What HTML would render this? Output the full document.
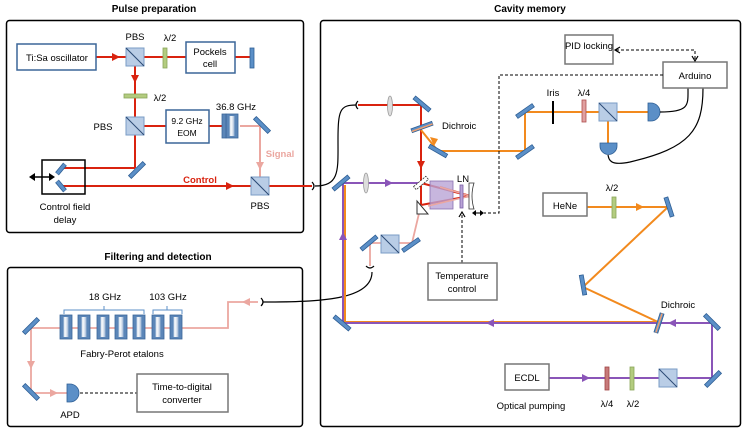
<!DOCTYPE html>
<html><head><meta charset="utf-8"><style>
html,body{margin:0;padding:0;background:#fff;}
svg{display:block;font-family:"Liberation Sans",sans-serif;}
</style></head><body>
<svg width="748" height="435" viewBox="0 0 748 435" xmlns="http://www.w3.org/2000/svg">
<defs>
<linearGradient id="et" x1="0" x2="1"><stop offset="0" stop-color="#5b86b8"/><stop offset="0.3" stop-color="#fff"/><stop offset="0.7" stop-color="#ccd8e8"/><stop offset="1" stop-color="#5b86b8"/></linearGradient>
<g id="cube"><rect x="-9" y="-9" width="18" height="18" fill="#b9cde6" stroke="#7a9cc6" stroke-width="1"/><line x1="-9" y1="-9" x2="9" y2="9" stroke="#2c4a75" stroke-width="1"/></g>
<g id="mir"><rect x="-10" y="-2" width="20" height="4" fill="#5b8fc7" stroke="#2f5f95" stroke-width="0.8"/></g>
<g id="etl"><rect x="0" y="0" width="12" height="24" fill="#5b86b8" stroke="#3b6699" stroke-width="0.8"/><rect x="3" y="2" width="6" height="20" fill="url(#et)"/></g>
</defs>
<g font-size="9.5" fill="#000">
<!-- Panels -->
<text x="154" y="12" font-weight="bold" text-anchor="middle" font-size="10">Pulse preparation</text>
<rect x="6.5" y="20.5" width="297" height="212" rx="3" fill="none" stroke="#000" stroke-width="1.5"/>
<text x="530" y="12" font-weight="bold" text-anchor="middle" font-size="10">Cavity memory</text>
<rect x="320.5" y="20.5" width="420" height="406" rx="3" fill="none" stroke="#000" stroke-width="1.5"/>
<text x="158" y="260" font-weight="bold" text-anchor="middle" font-size="10">Filtering and detection</text>
<rect x="7.5" y="267.5" width="295" height="159" rx="3" fill="none" stroke="#000" stroke-width="1.5"/>

<!-- Pulse prep beams -->
<g stroke="#d9230f" stroke-width="2" fill="none">
<line x1="96" y1="57" x2="252" y2="57"/>
<line x1="135" y1="57" x2="135" y2="168"/>
<line x1="144" y1="126" x2="222" y2="126"/>
<polyline points="135,168 61,168"/>
<line x1="61" y1="186" x2="312" y2="186"/>
</g>
<g fill="#d9230f"><polygon points="112,53 120,57 112,61"/><polygon points="131,75 135,83 139,75"/><polygon points="226,182 234,186 226,190"/></g>
<g stroke="#eba7a0" stroke-width="2" fill="none"><polyline points="240,126 260,126 260,178"/></g>
<polygon points="256,162 260,170 264,162" fill="#eba7a0"/>
<rect x="17" y="44" width="79" height="26" fill="#fff" stroke="#3b6699" stroke-width="1.5"/>
<text x="57" y="61" text-anchor="middle">Ti:Sa oscillator</text>
<use href="#cube" x="135" y="57"/><text x="135" y="40" text-anchor="middle">PBS</text>
<rect x="163" y="48" width="4" height="20" fill="#b3cc7f" stroke="#8aa65a" stroke-width="0.8"/><text x="170" y="41" text-anchor="middle">λ/2</text>
<rect x="186" y="42" width="49" height="31" fill="#fff" stroke="#3b6699" stroke-width="1.5"/>
<text x="210" y="55" text-anchor="middle">Pockels</text><text x="210" y="67" text-anchor="middle">cell</text>
<rect x="250" y="48" width="4" height="20" fill="#5b8fc7" stroke="#2f5f95" stroke-width="0.8"/>
<rect x="124" y="94" width="23" height="4" fill="#b3cc7f" stroke="#8aa65a" stroke-width="0.8"/><text x="160" y="101" text-anchor="middle">λ/2</text>
<use href="#cube" x="135" y="126"/><text x="103" y="130" text-anchor="middle">PBS</text>
<rect x="166" y="110" width="43" height="33" fill="#fff" stroke="#3b6699" stroke-width="1.5"/>
<text x="187" y="124" text-anchor="middle" font-size="8.5">9.2 GHz</text><text x="187" y="136" text-anchor="middle" font-size="8.5">EOM</text>
<use href="#etl" x="226" y="114"/><rect x="222" y="114" width="4" height="24" fill="#5b86b8" stroke="#3b6699" stroke-width="0.8"/>
<text x="236" y="110" text-anchor="middle">36.8 GHz</text>
<use href="#mir" transform="translate(262,125) rotate(45)"/>
<text x="280" y="157" text-anchor="middle" fill="#eba7a0" font-weight="bold">Signal</text>
<use href="#cube" x="260" y="186"/><text x="260" y="209" text-anchor="middle">PBS</text>
<use href="#mir" transform="translate(137,170) rotate(-45)"/>
<text x="200" y="183" text-anchor="middle" fill="#d9230f" font-weight="bold">Control</text>
<rect x="42" y="160" width="43" height="34" fill="none" stroke="#000" stroke-width="1.5"/>
<use href="#mir" transform="translate(61,169) rotate(-50) scale(0.6,1)"/>
<use href="#mir" transform="translate(61,186) rotate(50) scale(0.6,1)"/>
<line x1="31" y1="177" x2="53" y2="177" stroke="#000" stroke-width="1.5"/>
<polygon points="29,177 35,173 35,181"/><polygon points="55,177 49,173 49,181"/>
<text x="65" y="210" text-anchor="middle">Control field</text><text x="65" y="223" text-anchor="middle">delay</text>

<!-- fibers -->
<g stroke="#000" stroke-width="1.2" fill="none">
<path d="M312,182 q4,4 0,8"/>
<path d="M315,186 C340,186 338,170 338,140 C338,110 340,105 356,105"/>
<path d="M358,101 q-4,4 0,8"/>
<path d="M263,302 C320,302 372,300 372,272"/>
<path d="M261,298 q4,4 0,8"/>
<path d="M366,266 q4,4 8,0"/>
</g>

<!-- Cavity beams -->
<g fill="none" stroke-width="2">
<line x1="358" y1="105" x2="421" y2="105" stroke="#d9230f"/>
<line x1="421" y1="105" x2="421" y2="205" stroke="#d9230f"/>
<polyline points="421,130 438,151 525,151 525,112 655,112" stroke="#f28a1e"/>
<line x1="608" y1="112" x2="608" y2="143" stroke="#f28a1e"/>
<polyline points="345,185 345,322 658,322" stroke="#f28a1e"/>
<polyline points="343,183 343,323 712,323 712,378 549,378" stroke="#8a55b8"/>
<line x1="343" y1="183" x2="421" y2="183" stroke="#8a55b8"/>
<polyline points="421,183 470,196 421,205" stroke="#d9230f"/>
<line x1="440" y1="187" x2="470" y2="196" stroke="#d9230f"/>
<polyline points="421,205 412,243 370,243 370,266" stroke="#eba7a0" stroke-width="1.8"/>
<polyline points="587,207 668,207 583,287 658,322" stroke="#f28a1e"/>
</g>
<polygon points="417,161 421,169 425,161" fill="#d9230f"/>
<polygon points="430,137 434,146 438,139" fill="#f28a1e"/>
<polygon points="385,179 393,183 385,187" fill="#8a55b8"/>
<polygon points="339,240 343,232 347,240" fill="#8a55b8"/>
<polygon points="494,319 486,323 494,327" fill="#8a55b8"/>
<polygon points="676,319 668,323 676,327" fill="#8a55b8"/>
<polygon points="582,374 590,378 582,382" fill="#8a55b8"/>
<polygon points="636,203 644,207 636,211" fill="#f28a1e"/>
<!-- Cavity components -->
<ellipse cx="390" cy="106" rx="2.5" ry="10" fill="#ddd" stroke="#999" stroke-width="0.8"/>
<ellipse cx="366" cy="183" rx="2.5" ry="10" fill="#ddd" stroke="#999" stroke-width="0.8"/>
<use href="#mir" transform="translate(422,104) rotate(40)"/>
<g transform="translate(422,127) rotate(-20)"><rect x="-11" y="-2" width="22" height="4" fill="#5b8fc7" stroke="#2f5f95" stroke-width="0.8"/><rect x="-11" y="0" width="22" height="1.5" fill="#f0a070"/></g>
<text x="442" y="129">Dichroic</text>
<use href="#mir" transform="translate(438,151) rotate(30)"/>
<use href="#mir" transform="translate(525,111) rotate(-35)"/>
<use href="#mir" transform="translate(525,152) rotate(-35)"/>
<line x1="553" y1="101" x2="553" y2="124" stroke="#000" stroke-width="2"/><text x="553" y="96" text-anchor="middle">Iris</text>
<rect x="582" y="100" width="4" height="22" fill="#e0a0a0" stroke="#b05050" stroke-width="0.8"/><text x="584" y="96" text-anchor="middle">λ/4</text>
<use href="#cube" x="608" y="112"/>
<path d="M648,103 h3 a9,9 0 0 1 0,18 h-3 z" fill="#5b8fc7" stroke="#2f5f95" stroke-width="0.8"/>
<path d="M600,143 v3 a8.5,8.5 0 0 0 17,0 v-3 z" fill="#5b8fc7" stroke="#2f5f95" stroke-width="0.8"/>
<g stroke="#000" stroke-width="1.2" fill="none">
<path d="M660,112 C690,112 688,105 688,88"/>
<path d="M703,88 C703,130 690,148 630,162 C610,166 609,160 608,155"/>
</g>
<rect x="565" y="35" width="48" height="29" fill="#fff" stroke="#777" stroke-width="1.5"/><text x="589" y="49" text-anchor="middle">PID locking</text>
<rect x="663" y="62" width="64" height="26" fill="#fff" stroke="#777" stroke-width="1.5"/><text x="695" y="79" text-anchor="middle">Arduino</text>
<g stroke="#000" stroke-width="1" stroke-dasharray="3,2" fill="none">
<polyline points="616,50 695,50 695,60"/>
<polyline points="663,75 499,75 499,213 484,213"/>
<line x1="462" y1="263" x2="462" y2="215"/>
</g>
<polyline points="620,47 615,50 620,53" fill="none" stroke="#000" stroke-width="1.2"/>
<polyline points="692,56 695,61 698,56" fill="none" stroke="#000" stroke-width="1.2"/>
<polyline points="459,217 462,212 465,217" fill="none" stroke="#000" stroke-width="1.2"/>
<g stroke="#000" stroke-width="1.1"><line x1="474" y1="213" x2="482" y2="213"/></g>
<polygon points="472,213 476,210 476,216"/><polygon points="484,213 480,210 480,216"/>
<!-- crystal area -->
<g transform="translate(421,183) rotate(-40)"><rect x="-8" y="-2" width="16" height="4" fill="#fff" stroke="#333" stroke-width="0.8" stroke-dasharray="2,1"/></g>
<polygon points="417,201 417,214 428,214" fill="#fff" stroke="#333" stroke-width="1"/>
<rect x="430" y="181" width="23" height="28" fill="#b9a4d6" fill-opacity="0.8" stroke="#8a70b0" stroke-width="0.8"/>
<polyline points="440,187 470,196 428,206" fill="none" stroke="#eba7a0" stroke-width="1.5"/>
<rect x="460" y="185" width="3" height="23" fill="#b9a4d6" stroke="#7a5fa8" stroke-width="0.8"/>
<path d="M469,183 h5 q-4,13 0,26 h-5 z" fill="#fff" stroke="#333" stroke-width="0.8"/>
<text x="463" y="182" text-anchor="middle">LN</text>
<use href="#mir" transform="translate(341,183) rotate(-40)"/>
<use href="#mir" transform="translate(342,323) rotate(40)"/>
<use href="#mir" transform="translate(369,243) rotate(-40)"/>
<use href="#cube" x="390" y="244"/>
<use href="#mir" transform="translate(411,245) rotate(-35)"/>
<rect x="428" y="263" width="69" height="37" fill="#fff" stroke="#777" stroke-width="1.5"/>
<text x="462" y="279" text-anchor="middle">Temperature</text><text x="462" y="292" text-anchor="middle">control</text>
<rect x="543" y="193" width="44" height="23" fill="#fff" stroke="#777" stroke-width="1.5"/><text x="565" y="209" text-anchor="middle">HeNe</text>
<rect x="612" y="197" width="4" height="21" fill="#b3cc7f" stroke="#8aa65a" stroke-width="0.8"/><text x="612" y="191" text-anchor="middle">λ/2</text>
<use href="#mir" transform="translate(669,207) rotate(72)"/>
<use href="#mir" transform="translate(583,285) rotate(80)"/>
<g transform="translate(659,323) rotate(-72)"><rect x="-10" y="-2" width="20" height="4" fill="#5b8fc7" stroke="#2f5f95" stroke-width="0.8"/><rect x="-10" y="-0.7" width="20" height="1.4" fill="#f0a070"/></g>
<text x="678" y="308" text-anchor="middle">Dichroic</text>
<use href="#mir" transform="translate(712,322) rotate(45)"/>
<use href="#mir" transform="translate(713,379) rotate(-45)"/>
<rect x="505" y="364" width="44" height="26" fill="#fff" stroke="#777" stroke-width="1.5"/><text x="527" y="381" text-anchor="middle">ECDL</text>
<rect x="605" y="367" width="4" height="23" fill="#c77a7a" stroke="#a04545" stroke-width="0.8"/>
<rect x="630" y="367" width="4" height="23" fill="#b3cc7f" stroke="#8aa65a" stroke-width="0.8"/>
<use href="#cube" x="668" y="378"/>
<text x="531" y="409" text-anchor="middle">Optical pumping</text>
<text x="607" y="407" text-anchor="middle">λ/4</text><text x="633" y="407" text-anchor="middle">λ/2</text>

<!-- Filtering -->
<g fill="none" stroke="#eba7a0" stroke-width="1.8">
<polyline points="258,302 228,302 228,328 31,328 31,393 68,393"/>
</g>
<polygon points="250,298 242,302 250,306" fill="#eba7a0"/>
<polygon points="27,361 31,369 35,361" fill="#eba7a0"/>
<polygon points="50,389 58,393 50,397" fill="#eba7a0"/>
<use href="#mir" transform="translate(31,326) rotate(-45)"/>
<use href="#mir" transform="translate(31,392) rotate(45)"/>
<use href="#etl" x="60" y="315"/><use href="#etl" x="78" y="315"/><use href="#etl" x="97" y="315"/>
<use href="#etl" x="115" y="315"/><use href="#etl" x="133" y="315"/><use href="#etl" x="152" y="315"/><use href="#etl" x="170" y="315"/>
<g fill="none" stroke="#5b8fc7" stroke-width="1">
<path d="M64,314 v-4 h80 v4 M104,310 v-4"/>
<path d="M153,314 v-4 h29 v4 M167,310 v-4"/>
</g>
<text x="105" y="300" text-anchor="middle">18 GHz</text><text x="168" y="300" text-anchor="middle">103 GHz</text>
<text x="122" y="357" text-anchor="middle">Fabry-Perot etalons</text>
<path d="M67,384 h3 a9,9 0 0 1 0,18 h-3 z" fill="#5b8fc7" stroke="#2f5f95" stroke-width="0.8"/>
<text x="70" y="418" text-anchor="middle">APD</text>
<line x1="80" y1="393" x2="137" y2="393" stroke="#000" stroke-dasharray="3,2"/>
<rect x="137" y="374" width="91" height="38" fill="#fff" stroke="#777" stroke-width="1.5"/>
<text x="182" y="390" text-anchor="middle">Time-to-digital</text><text x="182" y="403" text-anchor="middle">converter</text>
</g>
</svg>
</body></html>
